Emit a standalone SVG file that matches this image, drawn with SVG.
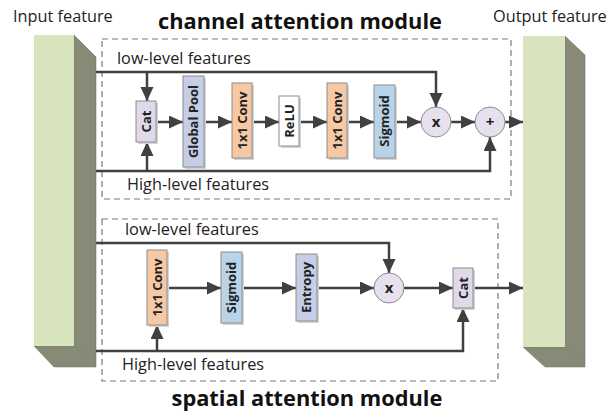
<svg xmlns="http://www.w3.org/2000/svg" width="611" height="412" viewBox="0 0 611 412">
<style>
.lbl{font-family:"Open Sans","Liberation Sans",sans-serif;font-size:16.3px;fill:#222}
.title{font-family:"Open Sans","Liberation Sans",sans-serif;font-size:21.8px;font-weight:bold;fill:#111}
.box{stroke:#8c8c8c;stroke-width:1}
.sh{fill:#d4d4d4}
.bt{font-family:"Open Sans","Liberation Sans",sans-serif;font-size:13px;font-weight:bold;fill:#222}
.ct{font-family:"Open Sans","Liberation Sans",sans-serif;font-size:15px;font-weight:bold;fill:#222}
.dash{fill:none;stroke:#7a7a7a;stroke-width:1.2;stroke-dasharray:6,4}
.conn{fill:none;stroke:#404040;stroke-width:2.5;marker-end:url(#ah)}
.front{fill:#d7e4bd}
.side{fill:#878a76;stroke:#6f715f;stroke-width:0.5}
.circ{fill:#e6e0ef;stroke:#8c8c8c;stroke-width:1}
</style>
<defs>
<marker id="ah" markerUnits="userSpaceOnUse" markerWidth="15" markerHeight="14" refX="14" refY="6.5" orient="auto">
<path d="M0,0 L14,6.5 L0,13 z" fill="#404040"/>
</marker>
</defs>
<rect width="611" height="412" fill="#fff"/>

<text class="title" x="300" y="29" text-anchor="middle">channel attention module</text>
<text class="title" x="307" y="406" text-anchor="middle">spatial attention module</text>

<rect id="channel-module" class="dash" x="102" y="39" width="409" height="160"/>
<rect id="spatial-module" class="dash" x="102" y="219" width="396" height="162"/>

<g id="input-feature">
<polygon class="side" points="74,35 96,57 96,367 74,346"/>
<polygon class="side" points="34,346 74,346 96,367 54,367"/>
<rect class="front" x="34" y="35" width="40" height="311"/>
<text class="lbl" x="13" y="22">Input feature</text>
</g>

<g id="output-feature">
<polygon class="side" points="565,36 585,55 585,367 565,347"/>
<polygon class="side" points="523,347 565,347 585,367 545,367"/>
<rect class="front" x="523" y="36" width="42" height="311"/>
<text class="lbl" x="493" y="22">Output feature</text>
</g>

<g id="connectors">
<path class="conn" d="M96,72 H436 V107"/>
<path class="conn" d="M147,72 V101"/>
<path class="conn" d="M96,171 H490 V137"/>
<path class="conn" d="M147,171 V142"/>
<path class="conn" d="M156,122 H183"/>
<path class="conn" d="M204,122 H232"/>
<path class="conn" d="M252,122 H279"/>
<path class="conn" d="M299,122 H327"/>
<path class="conn" d="M347,122 H374"/>
<path class="conn" d="M395,122 H421"/>
<path class="conn" d="M451,122 H475"/>
<path class="conn" d="M505,122 H523"/>
<path class="conn" d="M96,243 H389 V273"/>
<path class="conn" d="M96,351 H463 V308"/>
<path class="conn" d="M157,351 V325"/>
<path class="conn" d="M167,288 H221"/>
<path class="conn" d="M242,288 H296"/>
<path class="conn" d="M317,288 H374"/>
<path class="conn" d="M404,288 H453"/>
<path class="conn" d="M473,288 H523"/>
</g>

<text class="lbl" x="117" y="64">low-level features</text>
<text class="lbl" x="127" y="190">High-level features</text>
<text class="lbl" x="125" y="235">low-level features</text>
<text class="lbl" x="122" y="370">High-level features</text>

<g id="ca-cat">
<rect class="sh" x="138" y="103" width="20" height="41"/>
<rect class="box" x="136" y="101" width="20" height="41" fill="#e0d9ea"/>
<text class="bt" transform="translate(146,121.5) rotate(-90)" text-anchor="middle" dy="0.35em">Cat</text>
</g>
<g id="ca-globalpool">
<rect class="sh" x="185" y="78" width="21" height="91"/>
<rect class="box" x="183" y="76" width="21" height="91" fill="#c6cde6"/>
<text class="bt" transform="translate(193.5,121.5) rotate(-90)" text-anchor="middle" dy="0.35em">Global Pool</text>
</g>
<g id="ca-conv1">
<rect class="sh" x="234" y="85" width="20" height="75"/>
<rect class="box" x="232" y="83" width="20" height="75" fill="#f6c8a4"/>
<text class="bt" transform="translate(242,120.5) rotate(-90)" text-anchor="middle" dy="0.35em">1x1 Conv</text>
</g>
<g id="ca-relu">
<rect class="sh" x="281" y="98" width="20" height="50"/>
<rect class="box" x="279" y="96" width="20" height="50" fill="#ffffff"/>
<text class="bt" transform="translate(289,121) rotate(-90)" text-anchor="middle" dy="0.35em">ReLU</text>
</g>
<g id="ca-conv2">
<rect class="sh" x="329" y="85" width="20" height="75"/>
<rect class="box" x="327" y="83" width="20" height="75" fill="#f6c8a4"/>
<text class="bt" transform="translate(337,120.5) rotate(-90)" text-anchor="middle" dy="0.35em">1x1 Conv</text>
</g>
<g id="ca-sigmoid">
<rect class="sh" x="376" y="87" width="21" height="73"/>
<rect class="box" x="374" y="85" width="21" height="73" fill="#b9d4e8"/>
<text class="bt" transform="translate(384.5,121) rotate(-90)" text-anchor="middle" dy="0.35em">Sigmoid</text>
</g>
<g id="ca-mul">
<circle class="circ" cx="436" cy="122" r="15"/>
<text class="ct" x="436" y="122" text-anchor="middle" dy="0.35em">x</text>
</g>
<g id="ca-add">
<circle class="circ" cx="490" cy="122" r="15"/>
<text class="ct" x="490" y="122" text-anchor="middle" dy="0.35em">+</text>
</g>

<g id="sa-conv">
<rect class="sh" x="149" y="252" width="20" height="75"/>
<rect class="box" x="147" y="250" width="20" height="75" fill="#f6c8a4"/>
<text class="bt" transform="translate(157,287.5) rotate(-90)" text-anchor="middle" dy="0.35em">1x1 Conv</text>
</g>
<g id="sa-sigmoid">
<rect class="sh" x="223" y="254" width="21" height="71"/>
<rect class="box" x="221" y="252" width="21" height="71" fill="#b9d4e8"/>
<text class="bt" transform="translate(231.5,287.5) rotate(-90)" text-anchor="middle" dy="0.35em">Sigmoid</text>
</g>
<g id="sa-entropy">
<rect class="sh" x="298" y="256" width="21" height="67"/>
<rect class="box" x="296" y="254" width="21" height="67" fill="#c6cde6"/>
<text class="bt" transform="translate(306.5,287.5) rotate(-90)" text-anchor="middle" dy="0.35em">Entropy</text>
</g>
<g id="sa-mul">
<circle class="circ" cx="389" cy="288" r="15"/>
<text class="ct" x="389" y="288" text-anchor="middle" dy="0.35em">x</text>
</g>
<g id="sa-cat">
<rect class="sh" x="455" y="270" width="20" height="40"/>
<rect class="box" x="453" y="268" width="20" height="40" fill="#e0d9ea"/>
<text class="bt" transform="translate(463,288) rotate(-90)" text-anchor="middle" dy="0.35em">Cat</text>
</g>
</svg>
